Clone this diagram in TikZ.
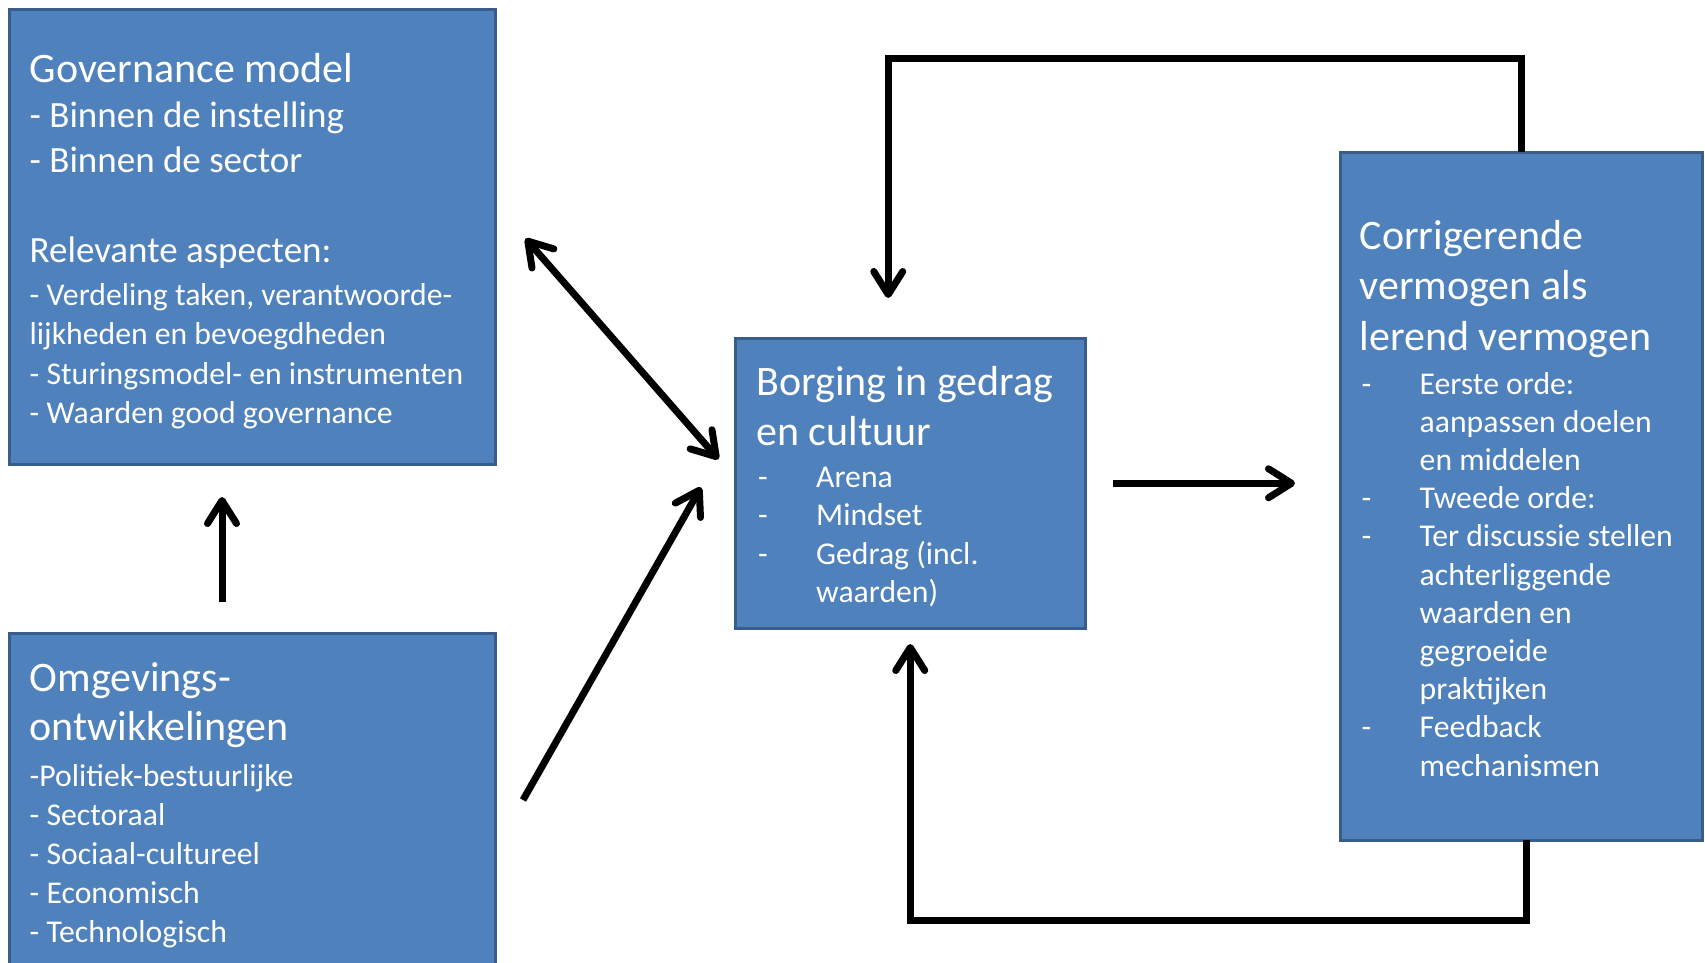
\documentclass[tikz,border=0pt]{standalone}
\usepackage{fontspec}
\setmainfont{Carlito}
\usetikzlibrary{arrows.meta, positioning}
\definecolor{boxFill}{HTML}{4F81BD}
\definecolor{boxLine}{HTML}{385D8A}
\newcommand{\sizeTitle}[1]{\fontsize{42pt}{#1pt}\selectfont\spaceskip=0pt\xspaceskip=0pt}
\newcommand{\sizeMid}[1]{\fontsize{37pt}{#1pt}\selectfont\spaceskip=0pt\xspaceskip=0pt}
\newcommand{\sizeSmall}[1]{\fontsize{31.7pt}{#1pt}\selectfont\spaceskip=0pt\xspaceskip=0pt}
\newcommand{\dashln}[1]{\makebox[60pt][l]{\hspace{2pt}-}#1\par}
\newcommand{\contln}[1]{\hspace*{60pt}#1\par}
\tikzset{
  box/.style={draw=boxLine, fill=boxFill, line width=3pt, anchor=north west,
    inner sep=0pt, outer sep=0pt},
  boxtext/.style={text=white, anchor=base west, align=left, inner sep=0pt},
  flow/.style={line width=7pt, -{Straight Barb[length=23pt, width=29pt, round]}},
  twoway/.style={line width=7pt,
    {Straight Barb[length=23pt, width=29pt, round]}-{Straight Barb[length=23pt, width=29pt, round]}}
}

\begin{document}
\begin{tikzpicture}[x=1pt, y=-1pt]
\useasboundingbox (0,0) rectangle (1705,962);
% boxes
\node[box, minimum width=486pt, minimum height=455pt] (gov) at (9.5,9) {};
\node[box, minimum width=486pt, minimum height=342pt] (omg) at (9.5,633) {};
\node[box, minimum width=349.5pt, minimum height=289.5pt] (bor) at (735.5,338.5) {};
\node[box, minimum width=362pt, minimum height=688pt] (cor) at (1340,152) {};
% texts
\node[boxtext, text width=470pt] (govtxt) at ([shift={(20,73)}]gov.north west) {%
  {\sizeTitle{50}Governance model\par}
  {\sizeMid{45}- Binnen de instelling\par - Binnen de sector\par}
  {\sizeMid{45}\vspace{45pt}Relevante aspecten:\par}
  {\sizeSmall{39.2}\vspace{4.5pt}- Verdeling taken, verantwoorde-\par lijkheden en bevoegdheden\par
   - Sturingsmodel- en instrumenten\par - Waarden good governance\par}};
\node[boxtext, text width=460pt] (omgtxt) at ([shift={(20,58)}]omg.north west) {%
  {\sizeTitle{49}Omgevings-\par ontwikkelingen\par}
  {\sizeSmall{39}\vspace{7pt}-Politiek-bestuurlijke\par - Sectoraal\par - Sociaal-cultureel\par
   - Economisch\par - Technologisch\par}};
\node[boxtext, text width=330pt] (bortxt) at ([shift={(20.5,56.5)}]bor.north west) {%
  {\sizeTitle{50}Borging in gedrag\par en cultuur\par}
  {\sizeSmall{38.5}\vspace{3.5pt}\dashln{Arena}\dashln{Mindset}\dashln{Gedrag (incl.}\contln{waarden)}}};
\node[boxtext, text width=340pt] (cortxt) at ([shift={(19.5,97)}]cor.north west) {%
  {\sizeTitle{50.5}Corrigerende\par vermogen als\par lerend vermogen\par}
  {\sizeSmall{38.2}\vspace{5.8pt}\dashln{Eerste orde:}\contln{aanpassen doelen}\contln{en middelen}
   \dashln{Tweede orde:}\dashln{Ter discussie stellen}\contln{achterliggende}
   \contln{waarden en}\contln{gegroeide}\contln{praktijken}\dashln{Feedback}\contln{mechanismen}}};
% connectors
\draw[flow, shorten <=31pt, shorten >=33pt] ([xshift=-30.5pt]omg.north) -- ([xshift=-30.5pt]gov.south);
\draw[twoway] ([shift={(30,2)}]gov.east) -- ([shift={(-17,-24)}]bor.west);
\draw[flow] ([shift={(27.5,-4)}]omg.east) -- ([shift={(-34.5,4)}]bor.west);
\draw[flow, shorten <=28pt, shorten >=45pt] (bor.east) -- (bor.east -| cor.west);
\draw[flow, shorten >=40.5pt] (cor.north) -- ++(0,-94) -| ([xshift=-22pt]bor.north);
\draw[flow, shorten >=16pt] ([xshift=5pt]cor.south) -- ++(0,80) -| (bor.south);
\end{tikzpicture}
\end{document}
